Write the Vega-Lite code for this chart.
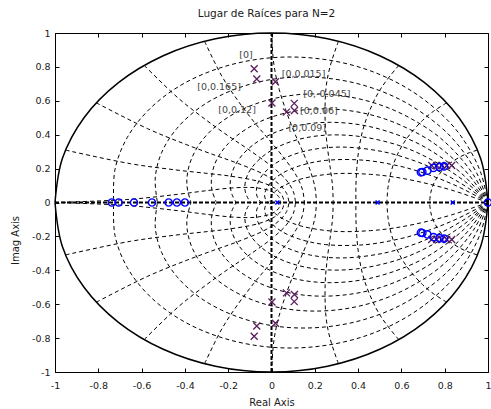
{
  "$schema": "https://vega.github.io/schema/vega-lite/v6.json",
  "width": 433,
  "height": 339,
  "autosize": {"type": "none"},
  "padding": {"left": 55, "top": 33, "right": 3, "bottom": 37},
  "background": "white",
  "title": {"text": "Lugar de Raíces para N=2", "font": "DejaVu Sans", "fontSize": 10.5, "fontWeight": "normal", "color": "#1a1a1a", "offset": 9, "dx": -5},
  "config": {
    "view": {"stroke": "black", "strokeWidth": 1},
    "axis": {"labelFont": "DejaVu Sans", "labelFontSize": 9.5, "labelColor": "#1a1a1a", "titleFont": "DejaVu Sans", "titleFontSize": 10, "titleFontWeight": "normal", "titleColor": "#1a1a1a", "tickColor": "black", "tickWidth": 1, "grid": false, "domain": false, "labelFlush": false, "labelOverlap": false}
  },
  "datasets": {
    "zgrid": [
      {"id": "z1", "i": 0, "x": 1, "y": 0}, {"id": "z1", "i": 1, "x": 0.968, "y": 0.171}, {"id": "z1", "i": 2, "x": 0.907, "y": 0.33}, {"id": "z1", "i": 3, "x": 0.822, "y": 0.474}, {"id": "z1", "i": 4, "x": 0.653, "y": 0.653}, {"id": "z1", "i": 5, "x": 0.45, "y": 0.78}, {"id": "z1", "i": 6, "x": 0.227, "y": 0.847}, {"id": "z1", "i": 7, "x": 0, "y": 0.854}, {"id": "z1", "i": 8, "x": -0.215, "y": 0.803}, {"id": "z1", "i": 9, "x": -0.405, "y": 0.702}, {"id": "z1", "i": 10, "x": -0.558, "y": 0.558}, {"id": "z1", "i": 11, "x": -0.666, "y": 0.384}, {"id": "z1", "i": 12, "x": -0.723, "y": 0.194}, {"id": "z1", "i": 13, "x": -0.729, "y": 0},
      {"id": "z2", "i": 0, "x": 1, "y": 0}, {"id": "z2", "i": 1, "x": 0.95, "y": 0.168}, {"id": "z2", "i": 2, "x": 0.875, "y": 0.318}, {"id": "z2", "i": 3, "x": 0.778, "y": 0.449}, {"id": "z2", "i": 4, "x": 0.602, "y": 0.602}, {"id": "z2", "i": 5, "x": 0.404, "y": 0.699}, {"id": "z2", "i": 6, "x": 0.198, "y": 0.739}, {"id": "z2", "i": 7, "x": 0, "y": 0.726}, {"id": "z2", "i": 8, "x": -0.178, "y": 0.664}, {"id": "z2", "i": 9, "x": -0.326, "y": 0.565}, {"id": "z2", "i": 10, "x": -0.437, "y": 0.437}, {"id": "z2", "i": 11, "x": -0.508, "y": 0.293}, {"id": "z2", "i": 12, "x": -0.537, "y": 0.144}, {"id": "z2", "i": 13, "x": -0.527, "y": 0},
      {"id": "z3", "i": 0, "x": 1, "y": 0}, {"id": "z3", "i": 1, "x": 0.932, "y": 0.164}, {"id": "z3", "i": 2, "x": 0.842, "y": 0.306}, {"id": "z3", "i": 3, "x": 0.735, "y": 0.424}, {"id": "z3", "i": 4, "x": 0.552, "y": 0.552}, {"id": "z3", "i": 5, "x": 0.36, "y": 0.623}, {"id": "z3", "i": 6, "x": 0.171, "y": 0.64}, {"id": "z3", "i": 7, "x": 0, "y": 0.61}, {"id": "z3", "i": 8, "x": -0.145, "y": 0.543}, {"id": "z3", "i": 9, "x": -0.259, "y": 0.448}, {"id": "z3", "i": 10, "x": -0.337, "y": 0.337}, {"id": "z3", "i": 11, "x": -0.38, "y": 0.219}, {"id": "z3", "i": 12, "x": -0.391, "y": 0.105}, {"id": "z3", "i": 13, "x": -0.372, "y": 0},
      {"id": "z4", "i": 0, "x": 1, "y": 0}, {"id": "z4", "i": 1, "x": 0.913, "y": 0.161}, {"id": "z4", "i": 2, "x": 0.807, "y": 0.294}, {"id": "z4", "i": 3, "x": 0.689, "y": 0.398}, {"id": "z4", "i": 4, "x": 0.502, "y": 0.502}, {"id": "z4", "i": 5, "x": 0.317, "y": 0.548}, {"id": "z4", "i": 6, "x": 0.146, "y": 0.546}, {"id": "z4", "i": 7, "x": 0, "y": 0.504}, {"id": "z4", "i": 8, "x": -0.116, "y": 0.434}, {"id": "z4", "i": 9, "x": -0.2, "y": 0.347}, {"id": "z4", "i": 10, "x": -0.253, "y": 0.253}, {"id": "z4", "i": 11, "x": -0.276, "y": 0.159}, {"id": "z4", "i": 12, "x": -0.275, "y": 0.074}, {"id": "z4", "i": 13, "x": -0.254, "y": 0},
      {"id": "z5", "i": 0, "x": 1, "y": 0}, {"id": "z5", "i": 1, "x": 0.89, "y": 0.157}, {"id": "z5", "i": 2, "x": 0.768, "y": 0.28}, {"id": "z5", "i": 3, "x": 0.64, "y": 0.37}, {"id": "z5", "i": 4, "x": 0.449, "y": 0.449}, {"id": "z5", "i": 5, "x": 0.273, "y": 0.473}, {"id": "z5", "i": 6, "x": 0.122, "y": 0.454}, {"id": "z5", "i": 7, "x": 0, "y": 0.404}, {"id": "z5", "i": 8, "x": -0.09, "y": 0.335}, {"id": "z5", "i": 9, "x": -0.149, "y": 0.258}, {"id": "z5", "i": 10, "x": -0.181, "y": 0.181}, {"id": "z5", "i": 11, "x": -0.191, "y": 0.11}, {"id": "z5", "i": 12, "x": -0.183, "y": 0.049}, {"id": "z5", "i": 13, "x": -0.163, "y": 0},
      {"id": "z6", "i": 0, "x": 1, "y": 0}, {"id": "z6", "i": 1, "x": 0.933, "y": 0.082}, {"id": "z6", "i": 2, "x": 0.864, "y": 0.152}, {"id": "z6", "i": 3, "x": 0.723, "y": 0.263}, {"id": "z6", "i": 4, "x": 0.585, "y": 0.338}, {"id": "z6", "i": 5, "x": 0.392, "y": 0.392}, {"id": "z6", "i": 6, "x": 0.228, "y": 0.395}, {"id": "z6", "i": 7, "x": 0.097, "y": 0.362}, {"id": "z6", "i": 8, "x": 0, "y": 0.308}, {"id": "z6", "i": 9, "x": -0.065, "y": 0.244}, {"id": "z6", "i": 10, "x": -0.104, "y": 0.18}, {"id": "z6", "i": 11, "x": -0.121, "y": 0.121}, {"id": "z6", "i": 12, "x": -0.122, "y": 0.07}, {"id": "z6", "i": 13, "x": -0.111, "y": 0.03}, {"id": "z6", "i": 14, "x": -0.095, "y": 0},
      {"id": "z7", "i": 0, "x": 1, "y": 0}, {"id": "z7", "i": 1, "x": 0.915, "y": 0.08}, {"id": "z7", "i": 2, "x": 0.83, "y": 0.146}, {"id": "z7", "i": 3, "x": 0.747, "y": 0.2}, {"id": "z7", "i": 4, "x": 0.667, "y": 0.243}, {"id": "z7", "i": 5, "x": 0.518, "y": 0.299}, {"id": "z7", "i": 6, "x": 0.327, "y": 0.327}, {"id": "z7", "i": 7, "x": 0.179, "y": 0.31}, {"id": "z7", "i": 8, "x": 0.072, "y": 0.268}, {"id": "z7", "i": 9, "x": 0, "y": 0.214}, {"id": "z7", "i": 10, "x": -0.043, "y": 0.16}, {"id": "z7", "i": 11, "x": -0.064, "y": 0.111}, {"id": "z7", "i": 12, "x": -0.07, "y": 0.07}, {"id": "z7", "i": 13, "x": -0.067, "y": 0.038}, {"id": "z7", "i": 14, "x": -0.057, "y": 0.015}, {"id": "z7", "i": 15, "x": -0.046, "y": 0},
      {"id": "z8", "i": 0, "x": 1, "y": 0}, {"id": "z8", "i": 1, "x": 0.887, "y": 0.078}, {"id": "z8", "i": 2, "x": 0.78, "y": 0.138}, {"id": "z8", "i": 3, "x": 0.681, "y": 0.183}, {"id": "z8", "i": 4, "x": 0.59, "y": 0.215}, {"id": "z8", "i": 5, "x": 0.431, "y": 0.249}, {"id": "z8", "i": 6, "x": 0.248, "y": 0.248}, {"id": "z8", "i": 7, "x": 0.124, "y": 0.214}, {"id": "z8", "i": 8, "x": 0.045, "y": 0.169}, {"id": "z8", "i": 9, "x": 0, "y": 0.123}, {"id": "z8", "i": 10, "x": -0.022, "y": 0.084}, {"id": "z8", "i": 11, "x": -0.031, "y": 0.053}, {"id": "z8", "i": 12, "x": -0.031, "y": 0.031}, {"id": "z8", "i": 13, "x": -0.026, "y": 0.015}, {"id": "z8", "i": 14, "x": -0.021, "y": 0.006}, {"id": "z8", "i": 15, "x": -0.015, "y": 0},
      {"id": "z9", "i": 0, "x": 1, "y": 0}, {"id": "z9", "i": 1, "x": 0.832, "y": 0.073}, {"id": "z9", "i": 2, "x": 0.687, "y": 0.121}, {"id": "z9", "i": 3, "x": 0.563, "y": 0.151}, {"id": "z9", "i": 4, "x": 0.457, "y": 0.166}, {"id": "z9", "i": 5, "x": 0.294, "y": 0.17}, {"id": "z9", "i": 6, "x": 0.14, "y": 0.14}, {"id": "z9", "i": 7, "x": 0.058, "y": 0.1}, {"id": "z9", "i": 8, "x": 0.017, "y": 0.065}, {"id": "z9", "i": 9, "x": 0, "y": 0.039}, {"id": "z9", "i": 10, "x": -0.007, "y": 0.011}, {"id": "z9", "i": 11, "x": -0.004, "y": 0.002}, {"id": "z9", "i": 12, "x": -0.002, "y": 0},
      {"id": "w1", "i": 0, "x": 0.951, "y": 0.309}, {"id": "w1", "i": 1, "x": 0.914, "y": 0.294}, {"id": "w1", "i": 2, "x": 0.88, "y": 0.275}, {"id": "w1", "i": 3, "x": 0.823, "y": 0.23}, {"id": "w1", "i": 4, "x": 0.781, "y": 0.176}, {"id": "w1", "i": 5, "x": 0.752, "y": 0.119}, {"id": "w1", "i": 6, "x": 0.736, "y": 0.06}, {"id": "w1", "i": 7, "x": 0.73, "y": 0},
      {"id": "w2", "i": 0, "x": 0.809, "y": 0.588}, {"id": "w2", "i": 1, "x": 0.748, "y": 0.538}, {"id": "w2", "i": 2, "x": 0.698, "y": 0.485}, {"id": "w2", "i": 3, "x": 0.625, "y": 0.378}, {"id": "w2", "i": 4, "x": 0.579, "y": 0.276}, {"id": "w2", "i": 5, "x": 0.552, "y": 0.179}, {"id": "w2", "i": 6, "x": 0.538, "y": 0.088}, {"id": "w2", "i": 7, "x": 0.533, "y": 0},
      {"id": "w3", "i": 0, "x": 0.588, "y": 0.809}, {"id": "w3", "i": 1, "x": 0.526, "y": 0.711}, {"id": "w3", "i": 2, "x": 0.481, "y": 0.619}, {"id": "w3", "i": 3, "x": 0.428, "y": 0.455}, {"id": "w3", "i": 4, "x": 0.404, "y": 0.317}, {"id": "w3", "i": 5, "x": 0.394, "y": 0.201}, {"id": "w3", "i": 6, "x": 0.39, "y": 0.097}, {"id": "w3", "i": 7, "x": 0.39, "y": 0},
      {"id": "w4", "i": 0, "x": 0.309, "y": 0.951}, {"id": "w4", "i": 1, "x": 0.271, "y": 0.804}, {"id": "w4", "i": 2, "x": 0.252, "y": 0.677}, {"id": "w4", "i": 3, "x": 0.248, "y": 0.473}, {"id": "w4", "i": 4, "x": 0.259, "y": 0.319}, {"id": "w4", "i": 5, "x": 0.272, "y": 0.198}, {"id": "w4", "i": 6, "x": 0.282, "y": 0.095}, {"id": "w4", "i": 7, "x": 0.285, "y": 0},
      {"id": "w5", "i": 0, "x": 0, "y": 1}, {"id": "w5", "i": 1, "x": 0.011, "y": 0.815}, {"id": "w5", "i": 2, "x": 0.036, "y": 0.665}, {"id": "w5", "i": 3, "x": 0.095, "y": 0.446}, {"id": "w5", "i": 4, "x": 0.146, "y": 0.295}, {"id": "w5", "i": 5, "x": 0.181, "y": 0.181}, {"id": "w5", "i": 6, "x": 0.201, "y": 0.087}, {"id": "w5", "i": 7, "x": 0.208, "y": 0},
      {"id": "w6", "i": 0, "x": -0.309, "y": 0.951}, {"id": "w6", "i": 1, "x": -0.23, "y": 0.747}, {"id": "w6", "i": 2, "x": -0.152, "y": 0.595}, {"id": "w6", "i": 3, "x": -0.083, "y": 0.479}, {"id": "w6", "i": 4, "x": -0.024, "y": 0.389}, {"id": "w6", "i": 5, "x": 0.062, "y": 0.256}, {"id": "w6", "i": 6, "x": 0.115, "y": 0.158}, {"id": "w6", "i": 7, "x": 0.143, "y": 0.076}, {"id": "w6", "i": 8, "x": 0.152, "y": 0},
      {"id": "w7", "i": 0, "x": -0.588, "y": 0.809}, {"id": "w7", "i": 1, "x": -0.43, "y": 0.615}, {"id": "w7", "i": 2, "x": -0.297, "y": 0.482}, {"id": "w7", "i": 3, "x": -0.192, "y": 0.386}, {"id": "w7", "i": 4, "x": -0.109, "y": 0.315}, {"id": "w7", "i": 5, "x": 0.003, "y": 0.211}, {"id": "w7", "i": 6, "x": 0.068, "y": 0.133}, {"id": "w7", "i": 7, "x": 0.101, "y": 0.064}, {"id": "w7", "i": 8, "x": 0.111, "y": 0},
      {"id": "w8", "i": 0, "x": -0.809, "y": 0.588}, {"id": "w8", "i": 1, "x": -0.573, "y": 0.436}, {"id": "w8", "i": 2, "x": -0.394, "y": 0.342}, {"id": "w8", "i": 3, "x": -0.261, "y": 0.279}, {"id": "w8", "i": 4, "x": -0.162, "y": 0.234}, {"id": "w8", "i": 5, "x": -0.035, "y": 0.166}, {"id": "w8", "i": 6, "x": 0.035, "y": 0.108}, {"id": "w8", "i": 7, "x": 0.07, "y": 0.053}, {"id": "w8", "i": 8, "x": 0.081, "y": 0},
      {"id": "w9", "i": 0, "x": -0.951, "y": 0.309}, {"id": "w9", "i": 1, "x": -0.652, "y": 0.229}, {"id": "w9", "i": 2, "x": -0.441, "y": 0.192}, {"id": "w9", "i": 3, "x": -0.293, "y": 0.171}, {"id": "w9", "i": 4, "x": -0.187, "y": 0.155}, {"id": "w9", "i": 5, "x": -0.056, "y": 0.123}, {"id": "w9", "i": 6, "x": 0.014, "y": 0.085}, {"id": "w9", "i": 7, "x": 0.048, "y": 0.044}, {"id": "w9", "i": 8, "x": 0.059, "y": 0},
      {"id": "w10", "i": 0, "x": -1, "y": 0}, {"id": "w10", "i": 1, "x": -0.663, "y": 0.018}, {"id": "w10", "i": 2, "x": -0.441, "y": 0.047}, {"id": "w10", "i": 3, "x": -0.292, "y": 0.071}, {"id": "w10", "i": 4, "x": -0.19, "y": 0.085}, {"id": "w10", "i": 5, "x": -0.118, "y": 0.089}, {"id": "w10", "i": 6, "x": -0.066, "y": 0.086}, {"id": "w10", "i": 7, "x": 0, "y": 0.066}, {"id": "w10", "i": 8, "x": 0.033, "y": 0.035}, {"id": "w10", "i": 9, "x": 0.043, "y": 0}
    ],
    "circle": [
      {"i": 0, "x": 1, "y": 0}, {"i": 1, "x": 0.966, "y": 0.259}, {"i": 2, "x": 0.866, "y": 0.5}, {"i": 3, "x": 0.707, "y": 0.707}, {"i": 4, "x": 0.5, "y": 0.866}, {"i": 5, "x": 0.259, "y": 0.966}, {"i": 6, "x": 0, "y": 1}, {"i": 7, "x": -0.259, "y": 0.966}, {"i": 8, "x": -0.5, "y": 0.866}, {"i": 9, "x": -0.707, "y": 0.707}, {"i": 10, "x": -0.866, "y": 0.5}, {"i": 11, "x": -0.966, "y": 0.259}, {"i": 12, "x": -1, "y": 0}
    ],
    "axlines": [
      {"x": -1, "x2": 1, "y": 0, "y2": 0},
      {"x": 0, "x2": 0, "y": -1, "y2": 1}
    ],
    "poles": [
      {"x": -0.08, "y": 0.789}, {"x": -0.068, "y": 0.729}, {"x": 0.018, "y": 0.712}, {"x": 0.002, "y": 0.587}, {"x": 0.105, "y": 0.585}, {"x": 0.106, "y": 0.543}, {"x": 0.069, "y": 0.533},
      {"x": -0.08, "y": -0.789}, {"x": -0.068, "y": -0.729}, {"x": 0.018, "y": -0.712}, {"x": 0.002, "y": -0.587}, {"x": 0.105, "y": -0.585}, {"x": 0.106, "y": -0.543}, {"x": 0.069, "y": -0.533},
      {"x": 0.74, "y": 0.218}, {"x": 0.763, "y": 0.218}, {"x": 0.786, "y": 0.218}, {"x": 0.809, "y": 0.218}, {"x": 0.832, "y": 0.218},
      {"x": 0.74, "y": -0.218}, {"x": 0.763, "y": -0.218}, {"x": 0.786, "y": -0.218}, {"x": 0.809, "y": -0.218}, {"x": 0.832, "y": -0.218}
    ],
    "zeros": [
      {"x": 0.69, "y": 0.178}, {"x": 0.697, "y": 0.18}, {"x": 0.72, "y": 0.188}, {"x": 0.748, "y": 0.204}, {"x": 0.776, "y": 0.21}, {"x": 0.797, "y": 0.213},
      {"x": 0.69, "y": -0.178}, {"x": 0.697, "y": -0.18}, {"x": 0.72, "y": -0.188}, {"x": 0.748, "y": -0.204}, {"x": 0.776, "y": -0.21}, {"x": 0.797, "y": -0.213},
      {"x": -0.738, "y": 0}, {"x": -0.706, "y": 0}, {"x": -0.635, "y": 0}, {"x": -0.552, "y": 0}, {"x": -0.475, "y": 0}, {"x": -0.437, "y": 0}, {"x": -0.4, "y": 0},
      {"x": 1, "y": 0}
    ],
    "realpoles": [
      {"x": 0.027, "y": 0}, {"x": 0.49, "y": 0}, {"x": 0.837, "y": 0}
    ],
    "labels": [
      {"x": -0.149, "y": 0.869, "t": "[0]"},
      {"x": -0.343, "y": 0.684, "t": "[0,0.165]"},
      {"x": -0.246, "y": 0.546, "t": "[0,0.12]"},
      {"x": 0.047, "y": 0.761, "t": "[0,0.015]"},
      {"x": 0.147, "y": 0.638, "t": "[0,-0.045]"},
      {"x": 0.132, "y": 0.54, "t": "[0,0.06]"},
      {"x": 0.078, "y": 0.438, "t": "[0,0.09]"}
    ]
  },
  "layer": [
    {
      "data": {"name": "zgrid"},
      "mark": {"type": "line", "interpolate": "catmull-rom", "color": "black", "strokeWidth": 1, "strokeDash": [4, 3]},
      "encoding": {
        "x": {"field": "x", "type": "quantitative", "scale": {"domain": [-1, 1], "nice": false, "zero": false}, "axis": null},
        "y": {"field": "y", "type": "quantitative", "scale": {"domain": [-1, 1], "nice": false, "zero": false}, "axis": null},
        "detail": {"field": "id"},
        "order": {"field": "i", "type": "quantitative"}
      }
    },
    {
      "data": {"name": "zgrid"},
      "mark": {"type": "line", "interpolate": "catmull-rom", "color": "black", "strokeWidth": 1, "strokeDash": [4, 3]},
      "encoding": {
        "x": {"field": "x", "type": "quantitative", "scale": {"domain": [-1, 1], "nice": false, "zero": false}, "axis": null},
        "y": {"field": "y", "type": "quantitative", "scale": {"domain": [-1, 1], "nice": false, "zero": false, "reverse": true}, "axis": null},
        "detail": {"field": "id"},
        "order": {"field": "i", "type": "quantitative"}
      }
    },
    {
      "data": {"name": "circle"},
      "mark": {"type": "line", "interpolate": "catmull-rom", "color": "black", "strokeWidth": 1.5},
      "encoding": {
        "x": {"field": "x", "type": "quantitative", "scale": {"domain": [-1, 1], "nice": false, "zero": false}, "axis": null},
        "y": {"field": "y", "type": "quantitative", "scale": {"domain": [-1, 1], "nice": false, "zero": false}, "axis": null},
        "order": {"field": "i", "type": "quantitative"}
      }
    },
    {
      "data": {"name": "circle"},
      "mark": {"type": "line", "interpolate": "catmull-rom", "color": "black", "strokeWidth": 1.5},
      "encoding": {
        "x": {"field": "x", "type": "quantitative", "scale": {"domain": [-1, 1], "nice": false, "zero": false}, "axis": null},
        "y": {"field": "y", "type": "quantitative", "scale": {"domain": [-1, 1], "nice": false, "zero": false, "reverse": true}, "axis": null},
        "order": {"field": "i", "type": "quantitative"}
      }
    },
    {
      "data": {"name": "axlines"},
      "mark": {"type": "rule", "color": "black", "strokeWidth": 2, "strokeDash": [4, 2]},
      "encoding": {
        "x": {"field": "x", "type": "quantitative", "scale": {"domain": [-1, 1], "nice": false, "zero": false},
          "axis": {"orient": "bottom", "values": [-1, -0.8, -0.6, -0.4, -0.2, 0, 0.2, 0.4, 0.6, 0.8, 1], "labelExpr": "'' + datum.value", "title": "Real Axis", "titleX": 216.5, "titleY": 30, "titleBaseline": "middle", "titleAlign": "center", "tickSize": -4, "labelPadding": 12}},
        "x2": {"field": "x2"},
        "y": {"field": "y", "type": "quantitative", "scale": {"domain": [-1, 1], "nice": false, "zero": false},
          "axis": {"orient": "left", "values": [-1, -0.8, -0.6, -0.4, -0.2, 0, 0.2, 0.4, 0.6, 0.8, 1], "labelExpr": "'' + datum.value", "title": "Imag Axis", "titleX": -40, "titleY": 207, "titleAngle": -90, "titleBaseline": "middle", "titleAlign": "center", "tickSize": -4, "labelPadding": 9}},
        "y2": {"field": "y2"}
      }
    },
    {
      "data": {"name": "poles"},
      "mark": {"type": "point", "shape": "M-1,-1L1,1M-1,1L1,-1", "filled": false, "stroke": "#5a1d5e", "strokeWidth": 1.3, "size": 49, "opacity": 1},
      "encoding": {
        "x": {"field": "x", "type": "quantitative", "scale": {"domain": [-1, 1], "nice": false, "zero": false}, "axis": null},
        "y": {"field": "y", "type": "quantitative", "scale": {"domain": [-1, 1], "nice": false, "zero": false}, "axis": null}
      }
    },
    {
      "data": {"name": "zeros"},
      "mark": {"type": "point", "shape": "circle", "filled": false, "stroke": "#0000ff", "strokeWidth": 1.4, "size": 52, "opacity": 1},
      "encoding": {
        "x": {"field": "x", "type": "quantitative", "scale": {"domain": [-1, 1], "nice": false, "zero": false}, "axis": null},
        "y": {"field": "y", "type": "quantitative", "scale": {"domain": [-1, 1], "nice": false, "zero": false}, "axis": null}
      }
    },
    {
      "data": {"name": "realpoles"},
      "mark": {"type": "point", "shape": "M-1,-1L1,1M-1,1L1,-1", "filled": false, "stroke": "#0000ff", "strokeWidth": 1.5, "size": 16, "opacity": 1},
      "encoding": {
        "x": {"field": "x", "type": "quantitative", "scale": {"domain": [-1, 1], "nice": false, "zero": false}, "axis": null},
        "y": {"field": "y", "type": "quantitative", "scale": {"domain": [-1, 1], "nice": false, "zero": false}, "axis": null}
      }
    },
    {
      "data": {"name": "labels"},
      "mark": {"type": "text", "align": "left", "baseline": "middle", "font": "DejaVu Sans", "fontSize": 9.5, "fill": "#444444"},
      "encoding": {
        "x": {"field": "x", "type": "quantitative", "scale": {"domain": [-1, 1], "nice": false, "zero": false},
          "axis": {"orient": "top", "values": [-1, -0.8, -0.6, -0.4, -0.2, 0, 0.2, 0.4, 0.6, 0.8, 1], "labels": false, "title": null, "tickSize": -4}},
        "y": {"field": "y", "type": "quantitative", "scale": {"domain": [-1, 1], "nice": false, "zero": false},
          "axis": {"orient": "right", "values": [-1, -0.8, -0.6, -0.4, -0.2, 0, 0.2, 0.4, 0.6, 0.8, 1], "labels": false, "title": null, "tickSize": -4}},
        "text": {"field": "t"}
      }
    }
  ],
  "resolve": {"scale": {"y": "independent"}, "axis": {"x": "independent", "y": "independent"}}
}
